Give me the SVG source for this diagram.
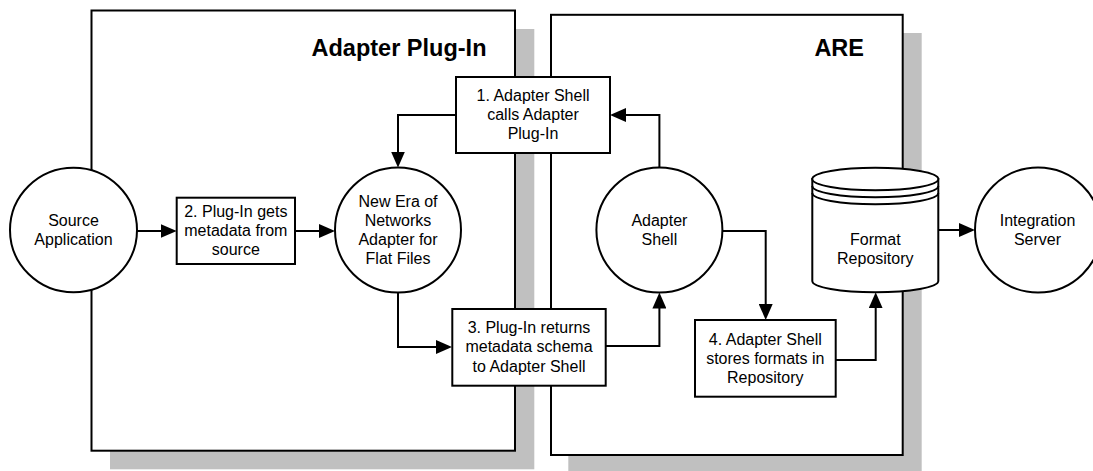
<svg xmlns="http://www.w3.org/2000/svg" width="1093" height="471" viewBox="0 0 1093 471">
  <defs>
    <style>
      .shadow { fill: #c0c0c0; stroke: none; }
      .panel { fill: #ffffff; stroke: #000000; stroke-width: 2; }
      .node { fill: #ffffff; stroke: #000000; stroke-width: 2; }
      .line { fill: none; stroke: #000000; stroke-width: 2; }
      .wire { fill: none; stroke: #000000; stroke-width: 2; marker-end: url(#arrow); }
      .title { font-family: "Liberation Sans", Arial, sans-serif; font-size: 23.5px; font-weight: bold; fill: #000000; text-anchor: end; }
      .label { font-family: "Liberation Sans", Arial, sans-serif; font-size: 16px; fill: #000000; text-anchor: middle; }
    </style>
    <marker id="arrow" viewBox="0 0 16 14" refX="8" refY="7" markerWidth="16" markerHeight="14" markerUnits="userSpaceOnUse" orient="auto">
      <path d="M0,0 L16,7 L0,14 Z" fill="#000000"/>
    </marker>
  </defs>

  <!-- Container panels with drop shadows -->
  <g id="panel-plugin">
    <rect class="shadow" x="110" y="29" width="424.3" height="440.3"/>
    <rect class="panel" x="91.5" y="10.5" width="423.5" height="440.2"/>
    <text class="title" x="486.5" y="55.5">Adapter Plug-In</text>
  </g>
  <g id="panel-are">
    <rect class="shadow" x="568.3" y="33" width="353.4" height="441"/>
    <rect class="panel" x="551" y="14.8" width="351.7" height="440.2"/>
    <text class="title" x="864" y="55.5">ARE</text>
  </g>

  <!-- Connectors -->
  <g id="connectors">
    <path class="wire" d="M137,231 L168.7,231"/>
    <path class="wire" d="M295,231 L327,231"/>
    <path class="wire" d="M456,115 L398,115 L398,159.5"/>
    <path class="wire" d="M398,292.5 L398,347 L444,347"/>
    <path class="wire" d="M606,346 L659.4,346 L659.4,300.5"/>
    <path class="wire" d="M659.4,167.5 L659.4,115 L618,115"/>
    <path class="wire" d="M722.4,231 L765.7,231 L765.7,312"/>
    <path class="wire" d="M835.7,360 L875.7,360 L875.7,300.3"/>
    <path class="wire" d="M938.3,230 L967,230"/>
  </g>

  <!-- Nodes -->
  <g id="source-application">
    <ellipse class="node" cx="73.5" cy="230" rx="63.5" ry="62.3"/>
    <text class="label" x="73.5" y="226">Source</text>
    <text class="label" x="73.5" y="245">Application</text>
  </g>

  <g id="step-2">
    <rect class="node" x="176.7" y="197.7" width="118.3" height="66.3"/>
    <text class="label" x="235.8" y="217">2. Plug-In gets</text>
    <text class="label" x="235.8" y="236">metadata from</text>
    <text class="label" x="235.8" y="255">source</text>
  </g>

  <g id="flat-file-adapter">
    <ellipse class="node" cx="398" cy="230" rx="63" ry="62.5"/>
    <text class="label" x="398" y="207">New Era of</text>
    <text class="label" x="398" y="226">Networks</text>
    <text class="label" x="398" y="245">Adapter for</text>
    <text class="label" x="398" y="264">Flat Files</text>
  </g>

  <g id="step-1">
    <rect class="node" x="456" y="77" width="154" height="76"/>
    <text class="label" x="533" y="101">1. Adapter Shell</text>
    <text class="label" x="533" y="120">calls Adapter</text>
    <text class="label" x="533" y="139">Plug-In</text>
  </g>

  <g id="step-3">
    <rect class="node" x="452.3" y="309" width="153.4" height="76.7"/>
    <text class="label" x="529" y="333">3. Plug-In returns</text>
    <text class="label" x="529" y="352">metadata schema</text>
    <text class="label" x="529" y="371.5">to Adapter Shell</text>
  </g>

  <g id="adapter-shell">
    <ellipse class="node" cx="659.4" cy="230" rx="63" ry="62.5"/>
    <text class="label" x="659.4" y="226">Adapter</text>
    <text class="label" x="659.4" y="245">Shell</text>
  </g>

  <g id="step-4">
    <rect class="node" x="695" y="320" width="140.7" height="76.7"/>
    <text class="label" x="765.3" y="345">4. Adapter Shell</text>
    <text class="label" x="765.3" y="364">stores formats in</text>
    <text class="label" x="765.3" y="383">Repository</text>
  </g>

  <g id="format-repository">
    <path class="node" d="M812.3,179 L812.3,281 A63,11.3 0 0 0 938.3,281 L938.3,179 Z"/>
    <ellipse class="node" cx="875.3" cy="179" rx="63" ry="11.3"/>
    <path class="line" d="M812.3,186 A63,11.3 0 0 0 938.3,186"/>
    <path class="line" d="M812.3,193 A63,11.3 0 0 0 938.3,193"/>
    <text class="label" x="875.3" y="245">Format</text>
    <text class="label" x="875.3" y="264">Repository</text>
  </g>

  <g id="integration-server">
    <ellipse class="node" cx="1038" cy="230" rx="63" ry="62.5"/>
    <text class="label" x="1037.5" y="226">Integration</text>
    <text class="label" x="1037.5" y="245">Server</text>
  </g>
</svg>
